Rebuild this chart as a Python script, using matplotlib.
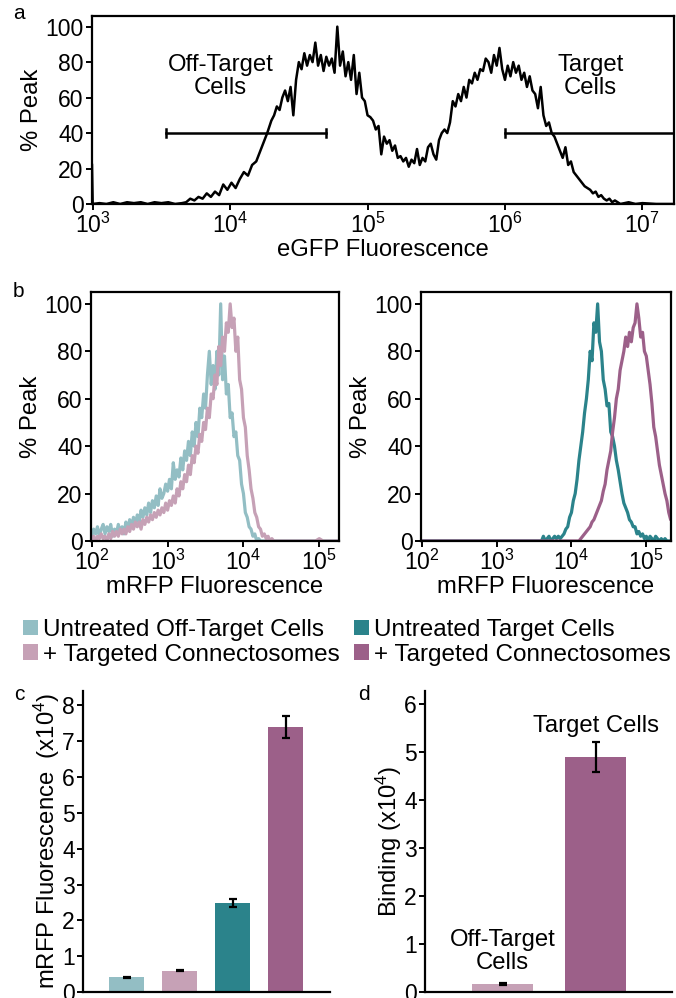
"""Flow cytometry histograms and binding bars (panels a-d)."""
import numpy as np
import matplotlib
matplotlib.use("Agg")
import matplotlib.pyplot as plt
from matplotlib.patches import Patch
from matplotlib.ticker import LogLocator, NullLocator

plt.rcParams['font.family'] = ['Liberation Sans', 'DejaVu Sans']
plt.rcParams['font.size'] = 17.2
plt.rcParams['xtick.labelsize'] = 16.5
plt.rcParams['ytick.labelsize'] = 16.5
plt.rcParams['mathtext.fontset'] = 'custom'
plt.rcParams['mathtext.rm'] = 'Liberation Sans'
plt.rcParams['mathtext.it'] = 'Liberation Sans:italic'

# colours
c_off = '#93bec4'
c_off_tx = '#c6a1b6'
c_tgt = '#2b838b'
c_tgt_tx = '#9c6089'

# ---- panel a: eGFP histogram (log10 of fluorescence, % peak)
a_logx = [2.995, 3.00, 3.05, 3.10, 3.15, 3.20, 3.25, 3.30, 3.35, 3.40, 3.45, 3.50,
          3.55, 3.60, 3.65, 3.68, 3.71, 3.74, 3.77, 3.80, 3.83, 3.86, 3.89, 3.92,
          3.95, 3.98, 4.01, 4.04, 4.07, 4.10, 4.13, 4.16, 4.19, 4.22, 4.25, 4.27,
          4.30, 4.32, 4.34, 4.36, 4.38, 4.40, 4.42, 4.44, 4.46, 4.48, 4.50, 4.52,
          4.54, 4.56, 4.58, 4.60, 4.62, 4.64, 4.66, 4.68, 4.70, 4.72, 4.74, 4.76,
          4.78, 4.80, 4.82, 4.84, 4.86, 4.88, 4.90, 4.92, 4.94, 4.96, 4.98, 5.00,
          5.02, 5.04, 5.06, 5.08, 5.10, 5.12, 5.14, 5.16, 5.18, 5.20, 5.22, 5.24,
          5.26, 5.28, 5.30, 5.32, 5.34, 5.36, 5.38, 5.40, 5.42, 5.44, 5.46, 5.48,
          5.50, 5.52, 5.54, 5.56, 5.58, 5.60, 5.62, 5.64, 5.66, 5.68, 5.70, 5.72,
          5.74, 5.76, 5.78, 5.80, 5.82, 5.84, 5.86, 5.88, 5.90, 5.92, 5.94, 5.96,
          5.98, 6.00, 6.02, 6.04, 6.06, 6.08, 6.10, 6.12, 6.14, 6.16, 6.18, 6.20,
          6.22, 6.24, 6.26, 6.28, 6.30, 6.32, 6.34, 6.36, 6.38, 6.40, 6.42, 6.44,
          6.46, 6.48, 6.50, 6.52, 6.54, 6.56, 6.58, 6.60, 6.62, 6.64, 6.66, 6.68,
          6.70, 6.72, 6.74, 6.76, 6.78, 6.80, 6.84, 6.90, 6.95, 7.00, 7.10, 7.25]
a_peak = [22, 0, 0.5, 0, 1, 0, 1, 0.5, 1, 0, 1, 0.5,
          1, 0, 0.5, 1, 3, 2, 4, 3, 6, 4, 7, 5,
          11, 8, 12, 9, 14, 18, 16, 22, 24, 30, 36, 40,
          47, 50, 55, 53, 60, 64, 58, 66, 50, 70, 80, 76,
          85, 78, 84, 80, 91, 78, 84, 75, 83, 78, 82, 74,
          100, 78, 86, 72, 80, 70, 84, 62, 74, 60, 58, 50,
          49, 47, 42, 44, 28, 38, 34, 36, 30, 33, 26, 27,
          24, 26, 21, 25, 23, 31, 22, 26, 24, 32, 34, 28,
          25, 36, 40, 42, 40, 46, 58, 55, 62, 58, 66, 60,
          70, 68, 74, 70, 76, 75, 82, 80, 74, 84, 78, 88,
          76, 70, 78, 72, 80, 74, 78, 70, 74, 66, 72, 64,
          62, 54, 66, 50, 44, 46, 40, 38, 34, 30, 26, 32,
          22, 24, 18, 16, 14, 12, 10, 9, 8, 6, 7, 4,
          5, 3, 2, 3, 1, 2, 0, 1, 0, 0.5, 0, 0]

# ---- panel b left: off-target cells, mRFP histograms
bl_logx = [2.000, 2.025, 2.050, 2.075, 2.100, 2.125, 2.150, 2.175,
           2.200, 2.225, 2.250, 2.275, 2.300, 2.325, 2.350, 2.375,
           2.400, 2.425, 2.450, 2.475, 2.500, 2.525, 2.550, 2.575,
           2.600, 2.625, 2.650, 2.675, 2.700, 2.725, 2.750, 2.775,
           2.800, 2.825, 2.850, 2.875, 2.900, 2.925, 2.950, 2.975,
           3.000, 3.025, 3.050, 3.075, 3.100, 3.125, 3.150, 3.175,
           3.200, 3.225, 3.250, 3.275, 3.300, 3.325, 3.350, 3.375,
           3.400, 3.425, 3.450, 3.475, 3.500, 3.525, 3.550, 3.575,
           3.600, 3.625, 3.650, 3.675, 3.700, 3.725, 3.750, 3.775,
           3.800, 3.825, 3.850, 3.875, 3.900, 3.925, 3.950, 3.975,
           4.000, 4.025, 4.050, 4.075, 4.100, 4.125, 4.150, 4.175,
           4.200, 4.225, 4.250, 4.275, 4.300, 4.325, 4.350, 4.375,
           4.400, 4.50, 4.60, 4.70, 4.80, 4.90, 4.95, 5.00, 5.05, 5.15, 5.30]
bl_off = [2, 5, 3, 6, 2, 5, 7, 3,
          6, 4, 7, 2, 5, 3, 7, 4,
          6, 3, 8, 5, 9, 6, 10, 7,
          11, 8, 13, 10, 14, 11, 16, 12,
          17, 14, 19, 15, 22, 18, 20, 24,
          21, 26, 22, 33, 26, 30, 27, 35,
          30, 38, 34, 42, 36, 46, 40, 50,
          44, 56, 52, 62, 56, 70, 80, 66,
          74, 64, 80, 70, 100, 68, 78, 62,
          66, 52, 54, 44, 46, 36, 34, 24,
          20, 12, 10, 6, 5, 2, 3, 0,
          1, 0, 0, 0, 0, 0, 0, 0,
          0, 0, 0, 0, 0, 0, 0, 0, 0, 0, 0]
bl_off_tx = [1, 2, 0, 2, 1, 3, 1, 2,
             0, 3, 1, 4, 2, 4, 2, 5,
             3, 5, 3, 6, 4, 7, 5, 8,
             6, 8, 5, 9, 7, 10, 8, 11,
             9, 12, 10, 13, 11, 14, 12, 16,
             13, 17, 15, 19, 16, 22, 19, 25,
             22, 28, 25, 32, 28, 36, 33, 40,
             37, 45, 42, 50, 47, 56, 52, 62,
             60, 70, 66, 82, 74, 86, 80, 92,
             88, 100, 90, 94, 80, 86, 68, 64,
             52, 48, 36, 30, 22, 18, 12, 10,
             6, 5, 2, 3, 1, 2, 0, 1,
             0, 0, 0, 0, 0, 0, 0, 1, 0, 0, 0]

# ---- panel b right: target cells, mRFP histograms
br_logx = [2.000, 3.000, 3.500,
           3.600, 3.625, 3.650, 3.675, 3.700, 3.725, 3.750, 3.775,
           3.800, 3.825, 3.850, 3.875, 3.900, 3.925, 3.950, 3.975,
           4.000, 4.025, 4.050, 4.075, 4.100, 4.125, 4.150, 4.175,
           4.200, 4.225, 4.250, 4.275, 4.300, 4.325, 4.350, 4.375,
           4.400, 4.425, 4.450, 4.475, 4.500, 4.525, 4.550, 4.575,
           4.600, 4.625, 4.650, 4.675, 4.700, 4.725, 4.750, 4.775,
           4.800, 4.825, 4.850, 4.875, 4.900, 4.925, 4.950, 4.975,
           5.000, 5.025, 5.050, 5.075, 5.100, 5.125, 5.150, 5.175,
           5.200, 5.225, 5.250, 5.275, 5.300, 5.325, 5.350]
br_tgt = [0, 0, 0,
          0, 2, 0, 1, 2, 0, 1, 2,
          1, 2, 1, 2, 3, 5, 6, 10,
          12, 17, 20, 26, 34, 40, 46, 54,
          60, 68, 80, 76, 92, 88, 100, 84,
          80, 68, 64, 57, 58, 46, 44, 40,
          34, 30, 25, 20, 16, 14, 12, 9,
          8, 6, 6, 3, 4, 2, 3, 1,
          2, 0, 2, 1, 0, 2, 1, 0,
          1, 0, 1, 0, 0, 0, 0]
br_tgt_tx = [0, 0, 0,
             0, 0, 0, 0, 0, 0, 0, 0,
             0, 0, 0, 0, 0, 0, 0, 0,
             0, 0, 0, 0, 0, 1, 2, 3,
             4, 5, 6, 8, 9, 11, 13, 15,
             17, 21, 24, 30, 34, 38, 46, 52,
             60, 64, 72, 76, 80, 86, 82, 88,
             84, 90, 92, 100, 94, 86, 88, 80,
             78, 72, 66, 58, 48, 44, 38, 32,
             28, 24, 20, 17, 12, 9, 14]

# ---- panel c: mean mRFP fluorescence (x10^4)
c_vals = [0.41, 0.60, 2.48, 7.40]
c_err = [0.02, 0.02, 0.12, 0.30]
c_cols = [c_off, c_off_tx, c_tgt, c_tgt_tx]

# ---- panel d: binding (x10^4)
d_labels = ['Off-Target\nCells', 'Target Cells']
d_vals = [0.17, 4.90]
d_err = [0.02, 0.31]
d_cols = [c_off_tx, c_tgt_tx]

legend_labels = ['Untreated Off-Target Cells', '+ Targeted Connectosomes',
                 'Untreated Target Cells', '+ Targeted Connectosomes']

W, H = 676, 998


def box(l, t, r, b):
    return [l / W, 1 - b / H, (r - l) / W, (b - t) / H]


def style_hist(ax, xlim, xlabel):
    ax.set_xscale('log')
    ax.set_xlim(*xlim)
    ax.xaxis.set_major_locator(LogLocator(base=10, numticks=12))
    ax.xaxis.set_minor_locator(NullLocator())
    ax.set_yticks([0, 20, 40, 60, 80, 100])
    for s in ax.spines.values():
        s.set_linewidth(1.6)
    ax.tick_params(direction='out', length=4, width=1.4, pad=2)
    ax.set_ylabel('% Peak', labelpad=2)
    ax.set_xlabel(xlabel, labelpad=1)


def style_bars(ax):
    ax.set_xticks([])
    ax.spines[['top', 'right']].set_visible(False)
    ax.spines[['left', 'bottom']].set_linewidth(1.6)
    ax.tick_params(direction='out', length=4, width=1.4, pad=2)


fig = plt.figure(figsize=(6.76, 9.98), dpi=100)

# panel a
ax = fig.add_axes(box(92, 16, 674, 204))
ax.plot(10 ** np.array(a_logx), a_peak, color='k', lw=1.8)
ax.set_ylim(0, 106)
style_hist(ax, (10 ** 2.995, 10 ** 7.23), 'eGFP Fluorescence')
# gates
ax.plot([3.4e3, 5.0e4], [40, 40], color='k', lw=1.8)
ax.plot([3.4e3, 3.4e3], [37.5, 42.5], color='k', lw=1.8)
ax.plot([5.0e4, 5.0e4], [37.5, 42.5], color='k', lw=1.8)
ax.plot([1.0e6, 1.0e8], [40, 40], color='k', lw=1.8)
ax.plot([1.0e6, 1.0e6], [37.5, 42.5], color='k', lw=1.8)
ax.text(10 ** 3.93, 72, 'Off-Target\nCells', ha='center', va='center', linespacing=1.05)
ax.text(10 ** 6.62, 72, 'Target\nCells', ha='center', va='center', linespacing=1.05)
fig.text(13 / W, 1 - 4 / H, 'a', ha='left', va='top', fontsize=15)

# panel b left
ax = fig.add_axes(box(91, 292, 339, 541))
ax.plot(10 ** np.array(bl_logx), bl_off, color=c_off, lw=2.3)
ax.plot(10 ** np.array(bl_logx), bl_off_tx, color=c_off_tx, lw=2.3)
ax.set_ylim(0, 105)
style_hist(ax, (10 ** 1.99, 10 ** 5.26), 'mRFP Fluorescence')
fig.text(13 / W, 1 - 282 / H, 'b', ha='left', va='top', fontsize=15)

# panel b right
ax = fig.add_axes(box(421, 292, 671, 541))
ax.plot(10 ** np.array(br_logx), br_tgt, color=c_tgt, lw=2.3)
ax.plot(10 ** np.array(br_logx), br_tgt_tx, color=c_tgt_tx, lw=2.3)
ax.set_ylim(0, 105)
style_hist(ax, (10 ** 1.99, 10 ** 5.33), 'mRFP Fluorescence')

# legend
handles = [Patch(facecolor=c, edgecolor='none') for c in [c_off, c_off_tx, c_tgt, c_tgt_tx]]
fig.legend(handles, legend_labels, ncol=2, loc='upper left',
           bbox_to_anchor=(23 / W, 1 - 619 / H), frameon=False, fontsize=17.5,
           handlelength=0.62, handleheight=0.62, handletextpad=0.2,
           columnspacing=0.6, labelspacing=0.12, borderpad=0, borderaxespad=0)

# panel c
ax = fig.add_axes(box(83, 691, 330, 992))
ax.bar(range(len(c_vals)), c_vals, width=0.66, color=c_cols,
       yerr=c_err, capsize=3, error_kw=dict(elinewidth=1.6, capthick=1.6, ecolor='k'))
ax.set_xlim(-0.83, 3.84)
ax.set_ylim(0, 8.4)
ax.set_yticks(range(0, 9))
style_bars(ax)
ax.set_ylabel('mRFP Fluorescence  (x10$^4$)', labelpad=0)
fig.text(14 / W, 1 - 685 / H, 'c', ha='left', va='top', fontsize=15)

# panel d
ax = fig.add_axes(box(425, 691, 672, 992))
ax.bar(range(len(d_vals)), d_vals, width=0.66, color=d_cols,
       yerr=d_err, capsize=3, error_kw=dict(elinewidth=1.6, capthick=1.6, ecolor='k'))
ax.set_xlim(-0.835, 1.82)
ax.set_ylim(0, 6.27)
ax.set_yticks(range(0, 7))
style_bars(ax)
ax.set_ylabel('Binding (x10$^4$)', labelpad=0)
ax.text(0, 0.85, d_labels[0], ha='center', va='center', linespacing=1.05)
ax.text(1, 5.55, d_labels[1], ha='center', va='center')
fig.text(358 / W, 1 - 685 / H, 'd', ha='left', va='top', fontsize=15)

fig.savefig('out.png', dpi=100)
